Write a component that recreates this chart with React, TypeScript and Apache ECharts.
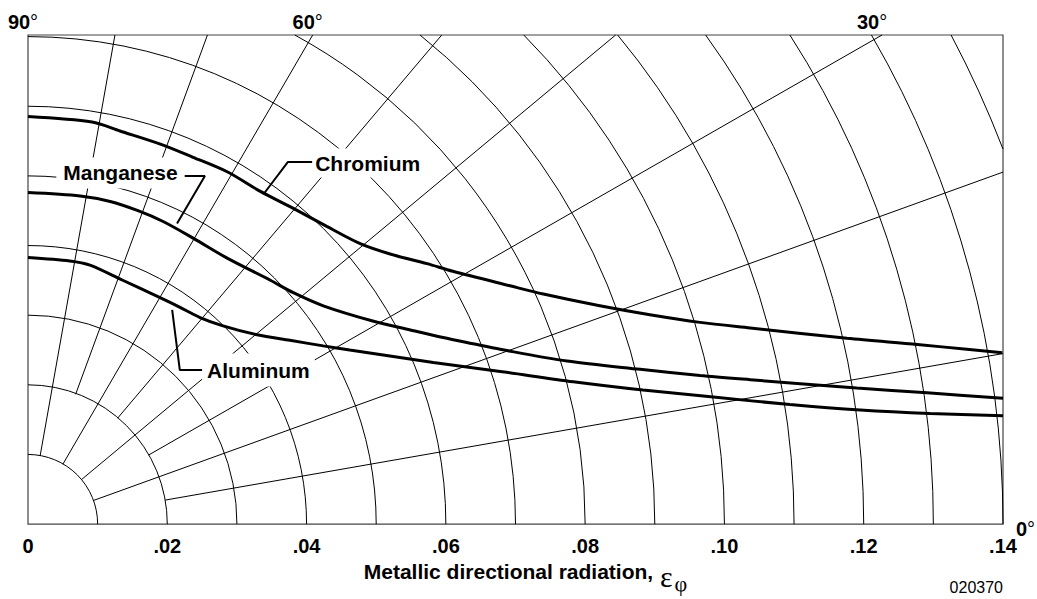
import { useEffect, useRef } from 'react';
import * as echarts from 'echarts';

// Axis extents (plot is drawn at equal x/y scale)
const X_MAX = 0.14;
const Y_MAX = 0.0708;
const X_INTERVAL = 0.02;

// Polar grid: arc radii and radial line angles (degrees) with their start radius
const arcRadii = [0.01, 0.02, 0.03, 0.04, 0.05, 0.06, 0.07, 0.08, 0.09, 0.1, 0.11, 0.12, 0.13, 0.14, 0.15];
const rayAngles = [10, 20, 30, 40, 50, 60, 70, 80];
const rayStarts = [0.02, 0.01, 0.02, 0.01, 0.02, 0.01, 0.02, 0.01];
const angleLabels = [90, 60, 30, 0];

// Curves [x, y]
const chromium = [
  [0, 0.059], [0.0092, 0.0582], [0.0132, 0.0569], [0.019, 0.055], [0.0237, 0.0531],
  [0.0286, 0.051], [0.0333, 0.0482], [0.0381, 0.0457], [0.0429, 0.0431], [0.0477, 0.0406],
  [0.052, 0.0391], [0.0573, 0.0377], [0.061, 0.0366], [0.0692, 0.0345], [0.074, 0.0333],
  [0.0821, 0.0316], [0.0893, 0.0303], [0.0965, 0.0292], [0.1037, 0.0284], [0.1176, 0.0269],
  [0.1277, 0.026], [0.1348, 0.0253], [0.1399, 0.0248],
];
const manganese = [
  [0, 0.048], [0.0075, 0.0475], [0.0118, 0.0467], [0.0157, 0.0454], [0.0194, 0.0438],
  [0.0237, 0.0414], [0.0286, 0.0385], [0.0348, 0.0353], [0.0381, 0.0335], [0.0424, 0.0316],
  [0.0495, 0.0294], [0.0549, 0.0281], [0.0596, 0.027], [0.0639, 0.0261], [0.0678, 0.0253],
  [0.0774, 0.0236], [0.0879, 0.0224], [0.0965, 0.0215], [0.1037, 0.0209], [0.119, 0.0197],
  [0.1291, 0.019], [0.14, 0.0182],
];
const aluminum = [
  [0, 0.0386], [0.006, 0.0381], [0.0089, 0.0375], [0.0136, 0.0353], [0.0185, 0.033],
  [0.0214, 0.0316], [0.0247, 0.0299], [0.028, 0.0287], [0.0329, 0.0274], [0.0376, 0.0266],
  [0.0424, 0.0258], [0.0462, 0.0252], [0.0582, 0.0234], [0.0678, 0.0221], [0.0783, 0.0206],
  [0.0883, 0.0194], [0.0984, 0.0184], [0.1094, 0.0173], [0.1195, 0.0165], [0.1295, 0.016],
  [0.14, 0.0157],
];
const seriesNames = ['Chromium', 'Manganese', 'Aluminum'];

// Callout leader lines (last point = label anchor)
const leaderChromium = [[0.034, 0.048], [0.0373, 0.0524], [0.0408, 0.0524]];
const leaderManganese = [[0.0214, 0.0435], [0.0254, 0.0504], [0.0225, 0.0504]];
const leaderAluminum = [[0.0207, 0.031], [0.0218, 0.0223], [0.025, 0.0223]];

const FONT = "'Liberation Sans', Arial, Helvetica, sans-serif";
const SERIF = "'Liberation Serif', 'DejaVu Serif', serif";

export default function App() {
  const ref = useRef<HTMLDivElement>(null);
  useEffect(() => {
    if (!ref.current) return;
    const chart = echarts.init(ref.current, undefined, { renderer: 'svg' });

    const curves = [chromium, manganese, aluminum];
    const leaders = [leaderChromium, leaderManganese, leaderAluminum];
    const labelCfg = [
      { position: 'right', padding: [4, 3], offset: [0, 1] },
      { position: 'left', padding: [5, 7], offset: [0, -3] },
      { position: 'right', padding: [6, 5], offset: [0, 0] },
    ];

    const option: any = {
      animation: false,
      grid: {
        left: 28, right: 34, top: 35, bottom: 71,
        show: true, borderColor: '#444', borderWidth: 1.2, backgroundColor: '#fff',
      },
      xAxis: {
        type: 'value', min: 0, max: X_MAX, interval: X_INTERVAL,
        axisLine: { show: false }, axisTick: { show: false }, splitLine: { show: false },
        axisLabel: {
          margin: 12, color: '#000', fontFamily: FONT, fontWeight: 'bold', fontSize: 20,
          formatter: (v: number) => (v === 0 ? '0' : v.toFixed(2).replace(/^0/, '')),
        },
        name: '{t|Metallic directional radiation, }{e|ε}{s|φ}',
        nameLocation: 'middle',
        nameGap: 31,
        nameTextStyle: {
          padding: [0, 0, 0, 20],
          rich: {
            t: { fontFamily: FONT, fontWeight: 'bold', fontSize: 21, color: '#000', lineHeight: 24, verticalAlign: 'top' },
            e: { fontFamily: SERIF, fontSize: 30, color: '#000', lineHeight: 24, verticalAlign: 'top', padding: [0, 1, 0, 1] },
            s: { fontFamily: SERIF, fontSize: 22, color: '#000', lineHeight: 24, verticalAlign: 'top', padding: [11, 0, 0, 1] },
          },
        },
      },
      yAxis: {
        type: 'value', min: 0, max: Y_MAX, show: false,
      },
      graphic: [
        {
          type: 'text', right: 34, top: 579,
          style: { text: '020370', font: `16px ${FONT}`, fill: '#000' },
        },
      ],
      series: [
        {
          type: 'custom', name: 'arcs', z: 2, silent: true,
          data: arcRadii.map((r) => [r, 0]),
          renderItem: (_p: any, api: any) => {
            const r = api.value(0);
            const o = api.coord([0, 0]);
            const rp = api.coord([r, 0])[0] - o[0];
            const top = o[1] - api.coord([0, Y_MAX])[1];
            const right = api.coord([X_MAX, 0])[0] - o[0];
            const a1 = rp > top ? Math.asin(top / rp) : Math.PI / 2;
            const a0 = rp > right ? Math.acos(right / rp) : 0;
            if (a0 >= a1) return { type: 'group', children: [] };
            return {
              type: 'arc',
              shape: { cx: o[0], cy: o[1], r: rp, startAngle: -a1, endAngle: -a0, clockwise: true },
              style: { stroke: '#000', fill: 'none', lineWidth: 1 },
            };
          },
        },
        {
          type: 'custom', name: 'rays', z: 2, silent: true,
          data: rayAngles.map((a, i) => [a, rayStarts[i]]),
          renderItem: (_p: any, api: any) => {
            const ang = (api.value(0) * Math.PI) / 180;
            const r0 = api.value(1);
            const c = Math.cos(ang);
            const s = Math.sin(ang);
            const t = Math.min(X_MAX / c, Y_MAX / s);
            const p0 = api.coord([r0 * c, r0 * s]);
            const p1 = api.coord([t * c, t * s]);
            return {
              type: 'line',
              shape: { x1: p0[0], y1: p0[1], x2: p1[0], y2: p1[1] },
              style: { stroke: '#000', lineWidth: 1 },
            };
          },
        },
        ...curves.map((d, i) => ({
          type: 'line', name: seriesNames[i], z: 4, silent: true,
          data: d, showSymbol: false, smooth: 0.3,
          lineStyle: { color: '#000', width: 3 },
        })),
        {
          type: 'scatter', name: 'callouts', z: 5, silent: true, symbolSize: 0,
          itemStyle: { opacity: 1 },
          data: leaders.map((l, i) => ({
            name: seriesNames[i],
            value: l[l.length - 1],
            label: {
              show: true, formatter: '{b}', position: labelCfg[i].position,
              distance: 0, padding: labelCfg[i].padding, offset: labelCfg[i].offset,
              backgroundColor: '#fff', color: '#000',
              fontFamily: FONT, fontWeight: 'bold', fontSize: 21,
            },
          })),
        },
        ...leaders.map((l, i) => ({
          type: 'line', name: seriesNames[i] + ' leader', z: 6, silent: true,
          data: l, showSymbol: false,
          lineStyle: { color: '#000', width: 2 },
        })),
        {
          type: 'scatter', name: 'angles', z: 5, silent: true, symbolSize: 0,
          itemStyle: { opacity: 1 },
          data: angleLabels.map((a) => {
            const isZero = a === 0;
            const value = isZero ? [X_MAX, 0] : [a === 90 ? 0 : Y_MAX / Math.tan((a * Math.PI) / 180), Y_MAX];
            return {
              value,
              label: {
                show: true,
                formatter: `{n|${a}}{d|°}`,
                position: isZero ? 'right' : 'top',
                distance: isZero ? 13 : 3,
                offset: isZero ? [0, 5] : [a === 30 ? -10 : -5, 0],
                rich: {
                  n: { fontFamily: FONT, fontWeight: 'bold', fontSize: 20, color: '#000' },
                  d: { fontFamily: FONT, fontWeight: 'normal', fontSize: 20, color: '#000' },
                },
              },
            };
          }),
        },
      ],
    };
    chart.setOption(option);
    return () => chart.dispose();
  }, []);
  return (
    <div
      ref={ref}
      style={{ position: 'fixed', left: 0, top: 0, width: 1037, height: 599, background: '#fff' }}
    />
  );
}
